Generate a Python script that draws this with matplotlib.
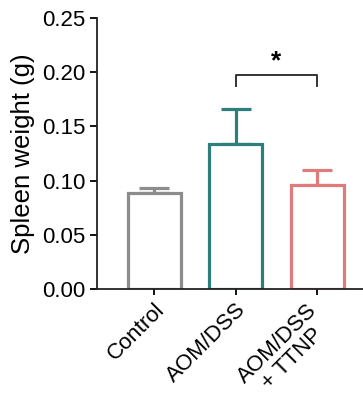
import matplotlib
matplotlib.use("Agg")
import matplotlib.pyplot as plt
import matplotlib.transforms as mtransforms
import numpy as np

plt.rcParams['font.family'] = ['Liberation Sans', 'DejaVu Sans']

groups = ["Control", "AOM/DSS", "AOM/DSS\n+ TTNP"]
means = [0.0885, 0.1335, 0.096]
sems = [0.0045, 0.033, 0.0135]
colors = ["#8c8c8c", "#2e7f7c", "#e07b7b"]
yticks = [0.00, 0.05, 0.10, 0.15, 0.20, 0.25]

fig = plt.figure(figsize=(3.63, 3.94), dpi=100)
ax = fig.add_axes([0.267, 0.2665, 0.733, 0.6878])

x = np.arange(len(groups))
ax.bar(x, means, width=0.65, color="white", edgecolor=colors, linewidth=2.3, zorder=2)
for xi, m, s, c in zip(x, means, sems, colors):
    ax.errorbar(xi, m, yerr=[[0], [s]], fmt="none", ecolor=c, elinewidth=2.3,
                capsize=10.5, capthick=2.3, zorder=1)

# significance bracket
y0, y1 = 0.187, 0.197
ax.plot([1, 1, 2, 2], [y0, y1, y1, y0], color="#333333", lw=1.4, clip_on=False)
ax.text(1.5, 0.2105, "*", ha="center", va="center", fontsize=19, fontweight="bold")

ax.set_xlim(-0.7, 2.56)
ax.set_ylim(0, 0.25)
ax.set_yticks(yticks)
ax.set_yticklabels([f"{t:.2f}" for t in yticks], fontsize=16)
ax.set_xticks(x)
ax.set_xticklabels([])

# rotated group labels, placed by hand under the ticks (inches offset)
offsets = [(0.0, -0.097), (0.0, -0.097), (-0.11, -0.11)]
for xi, name, (dx, dy) in zip(x, groups, offsets):
    tr = ax.get_xaxis_transform() + mtransforms.ScaledTranslation(dx, dy, fig.dpi_scale_trans)
    ax.text(xi, 0, name, transform=tr, rotation=45, ha="right", va="top",
            rotation_mode="anchor", fontsize=16, multialignment="center",
            linespacing=1.02, clip_on=False)

ax.set_ylabel("Spleen weight (g)", fontsize=18.5, labelpad=5)

for s in ["top", "right"]:
    ax.spines[s].set_visible(False)
for s in ["left", "bottom"]:
    ax.spines[s].set_linewidth(1.3)
    ax.spines[s].set_color("#222222")
ax.tick_params(axis="y", length=5, width=1.3, pad=3)
ax.tick_params(axis="x", length=4, width=1.3, pad=3)

fig.savefig("out.png", dpi=100)
